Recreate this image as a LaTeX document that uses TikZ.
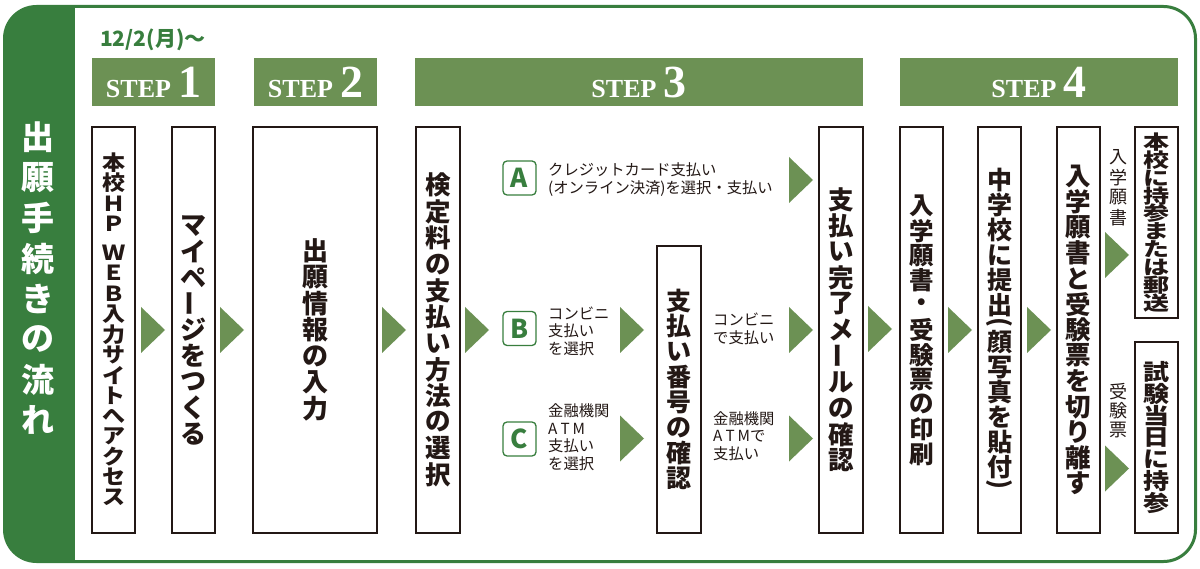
\documentclass[tikz,border=0pt]{standalone}
\usepackage{fontspec}
\usepackage{graphicx}
\newfontfamily\jp{Noto Sans CJK JP}
\newfontfamily\stepfont{Liberation Serif}
\definecolor{dkgreen}{RGB}{56,126,62}
\definecolor{stepgreen}{RGB}{108,145,84}
\definecolor{ink}{RGB}{35,24,21}
% vertical text
\newdimen\vtP \newdimen\vtS \newdimen\vtG
\def\vtendmark{\vtend}\def\vtgapmark{\vtgap}\def\vthalfmark{\vthalf}
\newcommand\vtext[4][1]{\vbox{\offinterlineskip\fontsize{#2}{#2}\selectfont\def\vtys{#1}\vtP=#3pt\relax\vtS=\vtP\relax\vtG=8.5pt\relax\vtloop#4\vtend}}
\def\vtloop#1{\def\vtcur{#1}%
  \ifx\vtcur\vtendmark\else
    \ifx\vtcur\vtgapmark\vskip\vtG\relax
    \else\ifx\vtcur\vthalfmark\vtS=0.5\vtP\relax
    \else\hbox to 0pt{\hss\vbox to\vtS{\vss\hbox{\scalebox{1}[\vtys]{#1}}\vss}\hss}\vtS=\vtP\relax
    \fi\fi
    \expandafter\vtloop
  \fi}
\newcommand\vbar{{\rotatebox[origin=c]{90}{ー}}}
\newcommand\atm{A\kern3pt T\kern3pt M}
\newcommand\stepnum[1]{{\fontsize{26}{26}\selectfont STEP}\hspace{7pt}{\fontsize{46}{46}\selectfont #1}}
\begin{document}
\begin{tikzpicture}[x=1pt,y=-1pt,
  pbox/.style={draw=ink, line width=1.4, fill=white, inner sep=0, minimum width=43, text=ink, font=\jp\bfseries},
  stephead/.style={fill=stepgreen, inner sep=0, minimum height=48, text=white, font=\stepfont\bfseries},
  badge/.style={draw=dkgreen, line width=1.3, rounded corners=4, minimum width=33, minimum height=34, inner sep=0, text=dkgreen, font=\jp\bfseries\fontsize{26}{26}\selectfont},
  lbl/.style={anchor=west, inner sep=0, align=left, text=ink, font=\jp\fontsize{15.3}{17.5}\selectfont},
  vlbl/.style={inner sep=0, text=ink, font=\jp},
  tri/.pic={\fill[stepgreen] (0,-23) -- (24,0) -- (0,23) -- cycle;}]
\useasboundingbox (0,0) rectangle (1200,569);
% frame
\fill[dkgreen, rounded corners=32] (4.5,6.5) rectangle (130,561.5);
\fill[white] (75,8) rectangle (1194,560);
\draw[dkgreen, line width=3, rounded corners=32] (4.5,6.5) rectangle (1195.5,561.5);
% sidebar title
\node[inner sep=0, text=white, font=\jp\bfseries] (title) at (37.5,278.75) {\vtext{33}{40.4}{出願手続きの流れ}};
% date
\node[anchor=base west, inner sep=0, text=dkgreen, font=\jp\bfseries\fontsize{21}{21}\selectfont] (date) at (100,47) {12/2(月)〜};
% step headers
\node[stephead, minimum width=123] (h1) at (153.5,82) {\stepnum{1}};
\node[stephead, minimum width=123] (h2) at (315.5,82) {\stepnum{2}};
\node[stephead, minimum width=448] (h3) at (639,82) {\stepnum{3}};
\node[stephead, minimum width=278] (h4) at (1039,82) {\stepnum{4}};
% process boxes
\node[pbox, minimum height=406] (b1) at (113.5,330) {\vtext[0.9]{23}{20.4}{本校ＨＰ\vtgap ＷＥＢ入力サイトへアクセス}};
\node[pbox, minimum height=406] (b2) at (193.5,330) {\vtext{26}{26.1}{マイペ\vbar ジをつくる}};
\node[pbox, minimum height=406, minimum width=124] (b3) at (315,330) {\vtext{26}{26.3}{出願情報の入力}};
\node[pbox, minimum height=406, minimum width=44] (b4) at (438,330) {\vtext{25.5}{26.3}{検定料の支払い方法の選択}};
\node[pbox, minimum height=287, minimum width=44] (b5) at (679,389.5) {\vtext{25}{25.4}{支払い番号の確認}};
\node[pbox, minimum height=406, minimum width=44] (b6) at (841,330) {\vtext{25.5}{26.1}{支払い完了メ\vbar ルの確認}};
\node[pbox, minimum height=406] (b7) at (921.5,330) {\vtext{24.5}{24.8}{入学願書・受験票の印刷}};
\node[pbox, minimum height=406] (b8) at (999.5,330) {\vtext{25}{25}{中学校に提出\vthalf{\rotatebox[origin=c]{-90}{(}}顔写真を貼付\vthalf{\rotatebox[origin=c]{-90}{)}}}};
\node[pbox, minimum height=406] (b9) at (1078.5,330) {\vtext{25.5}{25.6}{入学願書と受験票を切り離す}};
\node[pbox, minimum height=191] (b10) at (1156.5,222.5) {\vtext[0.75]{26}{17.8}{本校に持参または郵送}};
\node[pbox, minimum height=191] (b11) at (1156.5,437.5) {\vtext[0.86]{26}{21.7}{試験当日に持参}};
% payment options
\node[badge] (bA) at (519.5,178) {A};
\node[badge] (bB) at (519.5,328.5) {B};
\node[badge] (bC) at (519.5,439) {C};
\node[lbl] (tA) at (548,179.5) {クレジットカード支払い\\(オンライン決済)を選択・支払い};
\node[lbl] (tB) at (548,331) {コンビニ\\支払い\\を選択};
\node[lbl] (tC) at (548,437) {金融機関\\\atm\\支払い\\を選択};
\node[lbl] (tB2) at (713,329) {コンビニ\\で支払い};
\node[lbl] (tC2) at (713,436) {金融機関\\\atm で\\支払い};
% small vertical labels
\node[vlbl] (l1) at (1118,187.5) {\vtext{18}{20}{入学願書}};
\node[vlbl] (l2) at (1118,411) {\vtext{18}{19.3}{受験票}};
% arrows
\pic at (141,330) {tri};
\pic at (220,330) {tri};
\pic at (382,330) {tri};
\pic at (465,330) {tri};
\pic at (789,180) {tri};
\pic at (620,330) {tri};
\pic at (789,330) {tri};
\pic at (620,438.5) {tri};
\pic at (789,438.5) {tri};
\pic at (868,329) {tri};
\pic at (948,330) {tri};
\pic at (1027,330) {tri};
\pic at (1105,255) {tri};
\pic at (1105,468.5) {tri};
\end{tikzpicture}
\end{document}
